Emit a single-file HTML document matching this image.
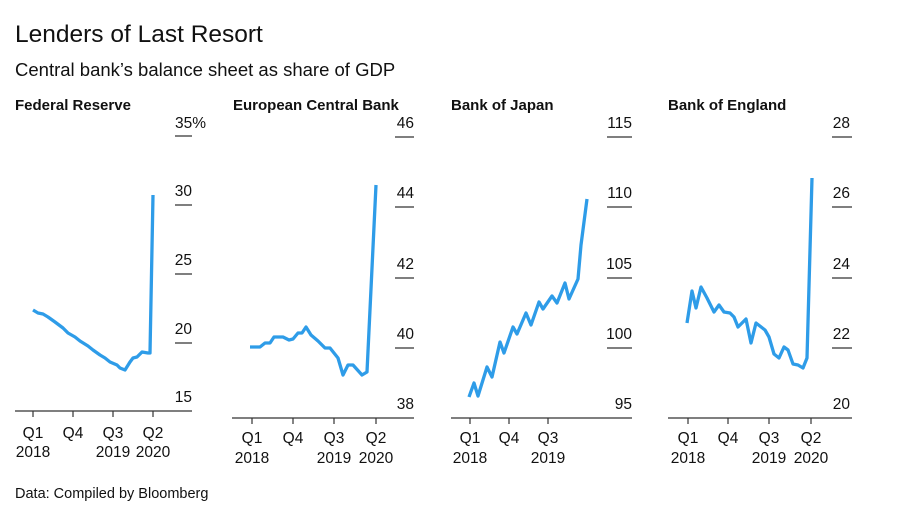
<!DOCTYPE html>
<html><head><meta charset="utf-8"><style>
body{margin:0;background:#fff;font-family:"Liberation Sans",sans-serif;}
svg text{font-family:"Liberation Sans",sans-serif;fill:#111;}
</style></head><body>
<svg width="900" height="514" xmlns="http://www.w3.org/2000/svg">
<text x="15" y="42" font-size="24.5">Lenders of Last Resort</text>
<text x="15" y="76" font-size="18.5">Central bank’s balance sheet as share of GDP</text>
<text x="15" y="498" font-size="14.5">Data: Compiled by Bloomberg</text>

<g id="fed">
<text x="15" y="110" font-size="15" font-weight="bold">Federal Reserve</text>
<g font-size="15.5" text-anchor="end">
<text x="206" y="128">35%</text><text x="192" y="196">30</text><text x="192" y="265">25</text><text x="192" y="334">20</text><text x="192" y="402">15</text>
</g>
<g stroke="#333" stroke-width="1.2">
<line x1="175" y1="136" x2="192" y2="136"/><line x1="175" y1="205" x2="192" y2="205"/><line x1="175" y1="274" x2="192" y2="274"/><line x1="175" y1="343" x2="192" y2="343"/>
<line x1="15" y1="411" x2="192" y2="411"/>
<line x1="33" y1="411" x2="33" y2="417"/><line x1="73" y1="411" x2="73" y2="417"/><line x1="113" y1="411" x2="113" y2="417"/><line x1="153" y1="411" x2="153" y2="417"/>
</g>
<g font-size="15.5" text-anchor="middle">
<text x="33" y="438">Q1</text><text x="33" y="457">2018</text><text x="73" y="438">Q4</text><text x="113" y="438">Q3</text><text x="113" y="457">2019</text><text x="153" y="438">Q2</text><text x="153" y="457">2020</text>
</g>
<polyline fill="none" stroke="#2e9ce8" stroke-width="3.3" stroke-linejoin="round" points="33,310 38,313 43,314 48,317 55,322 63,328 68,333 75,337 80,341 88,346 93,350 100,355 105,358 110,362 117,365 120,368 125,370 130,362 133,358 137,357 142,352 148,353 150,353 153,195"/>
</g>

<g id="ecb">
<text x="233" y="110" font-size="15" font-weight="bold">European Central Bank</text>
<g font-size="15.5" text-anchor="end">
<text x="414" y="128">46</text><text x="414" y="198">44</text><text x="414" y="269">42</text><text x="414" y="339">40</text><text x="414" y="409">38</text>
</g>
<g stroke="#333" stroke-width="1.2">
<line x1="395" y1="137" x2="414" y2="137"/><line x1="395" y1="207" x2="414" y2="207"/><line x1="395" y1="278" x2="414" y2="278"/><line x1="395" y1="348" x2="414" y2="348"/>
<line x1="232" y1="418" x2="414" y2="418"/>
<line x1="252" y1="418" x2="252" y2="424"/><line x1="293" y1="418" x2="293" y2="424"/><line x1="334" y1="418" x2="334" y2="424"/><line x1="376" y1="418" x2="376" y2="424"/>
</g>
<g font-size="15.5" text-anchor="middle">
<text x="252" y="443">Q1</text><text x="252" y="463">2018</text><text x="293" y="443">Q4</text><text x="334" y="443">Q3</text><text x="334" y="463">2019</text><text x="376" y="443">Q2</text><text x="376" y="463">2020</text>
</g>
<polyline fill="none" stroke="#2e9ce8" stroke-width="3.3" stroke-linejoin="round" points="250,347 260,347 265,343 270,343 274,337 283,337 289,340 293,339 298,333 302,333 306,327 311,335 318,341 325,348 330,348 338,358 343,375 348,365 353,365 362,375 367,372 376,185"/>
</g>

<g id="boj">
<text x="451" y="110" font-size="15" font-weight="bold">Bank of Japan</text>
<g font-size="15.5" text-anchor="end">
<text x="632" y="128">115</text><text x="632" y="198">110</text><text x="632" y="269">105</text><text x="632" y="339">100</text><text x="632" y="409">95</text>
</g>
<g stroke="#333" stroke-width="1.2">
<line x1="607" y1="137" x2="632" y2="137"/><line x1="607" y1="207" x2="632" y2="207"/><line x1="607" y1="278" x2="632" y2="278"/><line x1="607" y1="348" x2="632" y2="348"/>
<line x1="451" y1="418" x2="632" y2="418"/>
<line x1="470" y1="418" x2="470" y2="424"/><line x1="509" y1="418" x2="509" y2="424"/><line x1="548" y1="418" x2="548" y2="424"/>
</g>
<g font-size="15.5" text-anchor="middle">
<text x="470" y="443">Q1</text><text x="470" y="463">2018</text><text x="509" y="443">Q4</text><text x="548" y="443">Q3</text><text x="548" y="463">2019</text>
</g>
<polyline fill="none" stroke="#2e9ce8" stroke-width="3.3" stroke-linejoin="round" points="469,397 474,383 478,396 487,367 492,377 500,342 504,353 513,327 517,334 526,313 531,325 539,302 543,309 552,296 557,303 565,283 569,299 578,279 581,245 587,199"/>
</g>

<g id="boe">
<text x="668" y="110" font-size="15" font-weight="bold">Bank of England</text>
<g font-size="15.5" text-anchor="end">
<text x="850" y="128">28</text><text x="850" y="198">26</text><text x="850" y="269">24</text><text x="850" y="339">22</text><text x="850" y="409">20</text>
</g>
<g stroke="#333" stroke-width="1.2">
<line x1="832" y1="137" x2="852" y2="137"/><line x1="832" y1="207" x2="852" y2="207"/><line x1="832" y1="278" x2="852" y2="278"/><line x1="832" y1="348" x2="852" y2="348"/>
<line x1="668" y1="418" x2="852" y2="418"/>
<line x1="688" y1="418" x2="688" y2="424"/><line x1="728" y1="418" x2="728" y2="424"/><line x1="769" y1="418" x2="769" y2="424"/><line x1="811" y1="418" x2="811" y2="424"/>
</g>
<g font-size="15.5" text-anchor="middle">
<text x="688" y="443">Q1</text><text x="688" y="463">2018</text><text x="728" y="443">Q4</text><text x="769" y="443">Q3</text><text x="769" y="463">2019</text><text x="811" y="443">Q2</text><text x="811" y="463">2020</text>
</g>
<polyline fill="none" stroke="#2e9ce8" stroke-width="3.3" stroke-linejoin="round" points="687,323 692,291 696,308 701,287 707,298 714,312 719,305 724,312 730,313 734,317 738,327 746,319 751,343 756,323 765,330 769,337 774,354 779,358 784,347 788,350 793,364 798,365 803,368 807,358 812,178"/>
</g>
</svg>
</body></html>
